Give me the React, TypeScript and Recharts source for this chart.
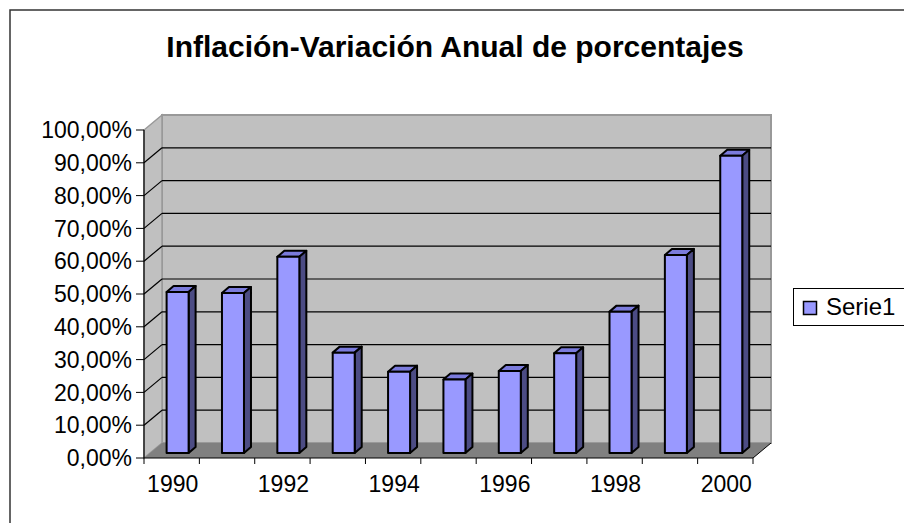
import * as Recharts from 'recharts';
import { BarChart, Bar, XAxis, YAxis, Legend } from 'recharts';

const chartTitle = 'Inflación-Variación Anual de porcentajes';
const seriesName = 'Serie1';
const years = ['1990', '1991', '1992', '1993', '1994', '1995', '1996', '1997', '1998', '1999', '2000'];
const inflation = [49.1, 48.8, 59.8, 30.6, 24.8, 22.4, 25.0, 30.4, 43.1, 60.4, 90.6];
const yTicks = [0, 10, 20, 30, 40, 50, 60, 70, 80, 90, 100];

const data = years.map((year, i) => ({ year, value: inflation[i] }));

const W = 904;
const H = 523;
const FONT = '"Liberation Sans", Arial, sans-serif';
// 3d depth of the walls and of the columns
const DX = 18;
const DY = 15;
const BAR_OFF_X = 6;
const BAR_OFF_Y = 5;
const BAR_DX = 7;
const BAR_DY = 6;
const LEGEND_W = 111;

const margin = { top: 130, right: 151 - LEGEND_W, bottom: 35, left: 84 };
const fallbackArea = { x: 144, y: 130, width: 609, height: 328 };

const usePlotArea: any = (Recharts as any).usePlotArea;

const Walls = () => {
    const area = usePlotArea ? usePlotArea() : undefined;
    const p = area && area.width ? area : fallbackArea;
    const left = p.x;
    const right = p.x + p.width;
    const top = p.y;
    const bottom = p.y + p.height;
    const yOf = (v: number) => top + p.height * (1 - v / 100);
    return (
        <g>
            {/* back wall */}
            <rect x={left + DX} y={top - DY} width={p.width} height={p.height} fill="#c0c0c0" stroke="#999" strokeWidth={2} />
            {/* left wall */}
            <polygon
                points={`${left},${bottom} ${left},${top} ${left + DX},${top - DY} ${left + DX},${bottom - DY}`}
                fill="#c0c0c0"
                stroke="#999"
                strokeWidth={1.5}
            />
            {/* floor */}
            <polygon
                points={`${left},${bottom} ${right},${bottom} ${right + DX},${bottom - DY} ${left + DX},${bottom - DY}`}
                fill="#808080"
            />
            <line x1={right} y1={bottom} x2={right + DX} y2={bottom - DY} stroke="#000" strokeWidth={1} />
            {yTicks.slice(1, -1).map((t) => (
                <g key={t}>
                    <line x1={left + DX} y1={yOf(t) - DY} x2={right + DX} y2={yOf(t) - DY} stroke="#000" strokeWidth={1.2} />
                    <line x1={left} y1={yOf(t)} x2={left + DX} y2={yOf(t) - DY} stroke="#000" strokeWidth={1.2} />
                </g>
            ))}
        </g>
    );
};

const Column = (props: any) => {
    const { x, y, width, height } = props;
    if (!height) return null;
    const fx = x + BAR_OFF_X;
    const fy = y - BAR_OFF_Y;
    return (
        <g stroke="#000" strokeWidth={2} strokeLinejoin="round">
            <polygon
                points={`${fx},${fy} ${fx + BAR_DX},${fy - BAR_DY} ${fx + width + BAR_DX},${fy - BAR_DY} ${fx + width},${fy}`}
                fill="#7b7bdc"
            />
            <polygon
                points={`${fx + width},${fy} ${fx + width + BAR_DX},${fy - BAR_DY} ${fx + width + BAR_DX},${fy + height - BAR_DY} ${fx + width},${fy + height}`}
                fill="#4c4c84"
            />
            <rect x={fx} y={fy} width={width} height={height} fill="#9999ff" />
        </g>
    );
};

const YearTick = (props: any) => {
    const { x, y, index, payload } = props;
    const half = payload.offset || 0;
    const last = index === years.length - 1;
    return (
        <g>
            <line x1={x - half} y1={y - 8} x2={x - half} y2={y - 2} stroke="#000" />
            {last && <line x1={x + half} y1={y - 8} x2={x + half} y2={y - 2} stroke="#000" />}
            {index % 2 === 0 && (
                <text x={x + 1} y={y + 26} textAnchor="middle" fontSize={23} fontFamily={FONT} fill="#000">
                    {payload.value}
                </text>
            )}
        </g>
    );
};

const LegendBox = () => (
    <div style={{ width: LEGEND_W, height: 38, overflow: 'hidden' }}>
        <svg width={130} height={38} style={{ display: 'block' }}>
            <rect x={0.5} y={0.5} width={128} height={37} fill="#fff" stroke="#000" />
            <rect x={10.5} y={13.5} width={13} height={13} fill="#9999ff" stroke="#000" strokeWidth={1.5} />
            <text x={33} y={27} fontSize={24} fontFamily={FONT} fill="#000">
                {seriesName}
            </text>
        </svg>
    </div>
);

export default function App() {
    return (
        <div style={{ position: 'relative', width: W, height: H, background: '#fff', overflow: 'hidden' }}>
            <style>{'body{margin:0}'}</style>
            <BarChart width={W} height={H} data={data} margin={margin} barCategoryGap="30%">
                <rect x={10} y={10} width={1000} height={1000} fill="none" stroke="#333" strokeWidth={1.5} />
                <text x={455} y={57} textAnchor="middle" fontSize={30} fontWeight="bold" fontFamily={FONT} fill="#000">
                    {chartTitle}
                </text>
                <Walls />
                <XAxis
                    dataKey="year"
                    interval={0}
                    height={30}
                    tickLine={false}
                    tickSize={6}
                    tickMargin={2}
                    axisLine={{ stroke: '#000', strokeWidth: 1.2 }}
                    tick={<YearTick />}
                />
                <YAxis
                    width={60}
                    domain={[0, 100]}
                    ticks={yTicks}
                    interval={0}
                    tickSize={8}
                    tickMargin={4}
                    tickFormatter={(v: number) => `${v.toFixed(2).replace('.', ',')}%`}
                    tick={{ fontSize: 23, fontFamily: FONT, fill: '#000' }}
                    tickLine={{ stroke: '#000' }}
                    axisLine={{ stroke: '#000', strokeWidth: 1.2 }}
                />
                <Legend
                    layout="vertical"
                    align="right"
                    verticalAlign="middle"
                    content={<LegendBox />}
                    wrapperStyle={{ position: 'absolute', left: 793, top: 288, width: LEGEND_W, right: 'auto', bottom: 'auto' }}
                />
                <Bar dataKey="value" name={seriesName} shape={<Column />} isAnimationActive={false} />
            </BarChart>
        </div>
    );
}
